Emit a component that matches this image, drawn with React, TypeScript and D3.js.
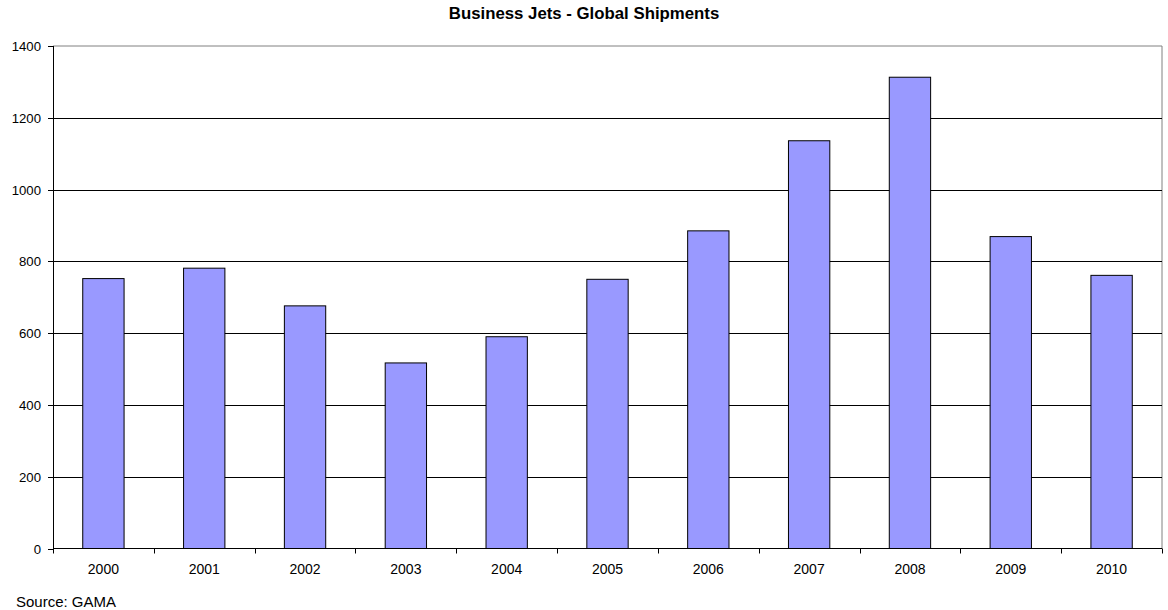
import React from "react";
import * as d3 from "d3";

const years = ["2000","2001","2002","2003","2004","2005","2006","2007","2008","2009","2010"];
const shipments = [752, 781, 676, 517, 590, 750, 885, 1136, 1313, 869, 761];
const yTicks = [0, 200, 400, 600, 800, 1000, 1200, 1400];
const title = "Business Jets - Global Shipments";
const source = "Source: GAMA";

export default function App() {
  const W = 1168, H = 610;
  const left = 53, right = 1162, top = 46, bottom = 548.5;
  const x = d3.scaleBand<string>().domain(years).range([left, right]).padding(0);
  const y = d3.scaleLinear().domain([0, 1400]).range([bottom, top]);
  const bw = x.bandwidth() * 0.41;
  const font = "'Liberation Sans', Arial, sans-serif";
  const boundaries = years.map((d) => x(d) as number).concat([right]);
  return (
    <svg width={W} height={H} style={{ position: "absolute", left: 0, top: 0, background: "#fff" }} fontFamily={font}>
      <text x={584} y={19} textAnchor="middle" fontSize={16.8} fontWeight="bold">{title}</text>
      {/* plot border */}
      <line x1={left} x2={right} y1={top} y2={top} stroke="#808080" />
      <line x1={right} x2={right} y1={top} y2={bottom} stroke="#808080" />
      {yTicks.filter((t) => t > 0 && t < 1400).map((t) => (
        <line key={t} x1={left} x2={right} y1={Math.round(y(t)) + 0.5} y2={Math.round(y(t)) + 0.5} stroke="#000" />
      ))}
      {shipments.map((v, i) => {
        const cx = (x(years[i]) as number) + x.bandwidth() / 2;
        return (
          <rect key={years[i]} x={cx - bw / 2} y={y(v)} width={bw} height={bottom - y(v)}
            fill="#9999FF" stroke="#000" strokeWidth={1} />
        );
      })}
      {/* axes */}
      <line x1={left + 0.5} x2={left + 0.5} y1={top} y2={bottom} stroke="#000" />
      <line x1={left} x2={right} y1={bottom} y2={bottom} stroke="#000" />
      {yTicks.map((t) => (
        <g key={t}>
          <line x1={left - 5} x2={left} y1={Math.round(y(t)) + 0.5} y2={Math.round(y(t)) + 0.5} stroke="#000" />
          <text x={left - 12} y={y(t) + 5} textAnchor="end" fontSize={13.2}>{t}</text>
        </g>
      ))}
      {boundaries.map((b, i) => (
        <line key={i} x1={Math.round(b) + 0.5} x2={Math.round(b) + 0.5} y1={bottom} y2={bottom + 5} stroke="#000" />
      ))}
      {years.map((d) => (
        <text key={d} x={(x(d) as number) + x.bandwidth() / 2} y={573.5} textAnchor="middle" fontSize={14}>{d}</text>
      ))}
      <text x={16} y={606.5} fontSize={15}>{source}</text>
    </svg>
  );
}
